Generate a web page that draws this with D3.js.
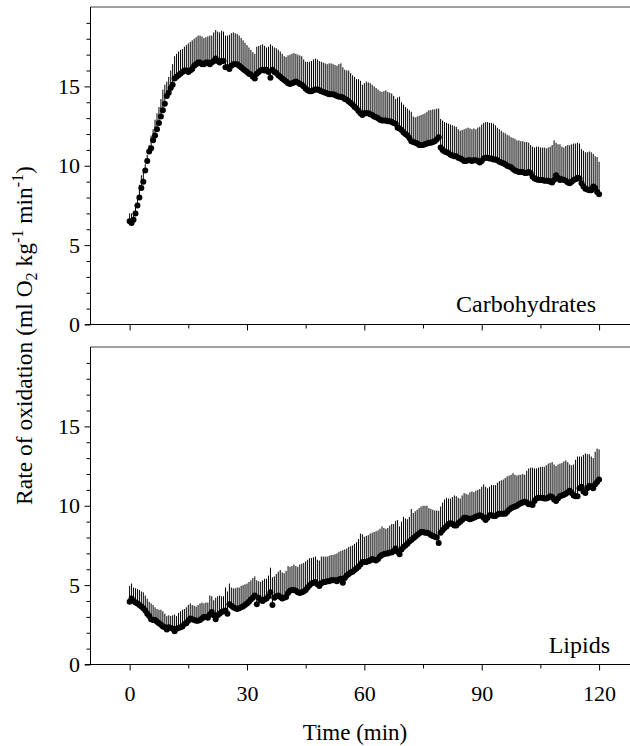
<!DOCTYPE html>
<html>
<head>
<meta charset="utf-8">
<script src="https://cdnjs.cloudflare.com/ajax/libs/d3/7.8.5/d3.min.js"></script>
<style>
  body { margin: 0; background: #fff; }
  svg { display: block; }
  text { font-family: "Liberation Serif", "Times New Roman", serif; fill: #000; }
</style>
</head>
<body>
<svg id="chart" width="630" height="746"></svg>
<script>
// samples every 0.5 min, 0..120
var times = d3.range(0, 120.5, 0.5);

// carbohydrate oxidation, mean and mean + SD
var choMean = [
  6.5,6.4,6.6,7.0,7.5,8.0,8.6,9.0,9.7,10.3,
  10.9,11.1,11.6,11.9,12.3,12.7,13.1,13.5,13.9,14.4,
  14.6,14.9,15.1,15.5,15.6,15.7,15.8,15.9,16.0,16.0,
  15.9,16.0,16.1,16.3,16.4,16.5,16.5,16.4,16.4,16.5,
  16.5,16.4,16.5,16.6,16.75,16.6,16.5,16.6,16.6,16.2,
  16.2,16.1,16.3,16.4,16.4,16.4,16.3,16.2,16.1,16.0,
  15.9,15.8,15.75,15.6,15.5,15.8,15.9,16.0,16.05,16.0,
  16.05,15.9,15.55,16.05,15.9,15.85,15.7,15.6,15.5,15.4,
  15.3,15.2,15.15,15.2,15.25,15.3,15.25,15.15,15.1,15.0,
  14.85,14.75,14.7,14.7,14.75,14.8,14.8,14.75,14.7,14.65,
  14.6,14.55,14.5,14.5,14.5,14.45,14.4,14.35,14.35,14.3,
  14.2,14.15,14.05,13.95,13.85,13.7,13.6,13.45,13.3,13.2,
  13.3,13.3,13.3,13.25,13.2,13.1,13.05,13.0,12.9,12.85,
  12.85,12.85,12.8,12.8,12.75,12.7,12.65,12.4,12.35,12.25,
  12.1,12.0,11.9,11.75,11.55,11.5,11.45,11.4,11.3,11.3,
  11.3,11.35,11.4,11.45,11.45,11.5,11.55,11.65,11.8,11.15,
  11.0,10.9,10.85,10.8,10.7,10.65,10.6,10.6,10.5,10.45,
  10.4,10.3,10.3,10.35,10.35,10.3,10.35,10.35,10.3,10.2,
  10.3,10.45,10.5,10.5,10.45,10.45,10.4,10.4,10.35,10.25,
  10.2,10.15,10.1,10.0,9.95,9.9,9.8,9.7,9.65,9.6,
  9.6,9.6,9.55,9.55,9.6,9.55,9.3,9.2,9.15,9.1,
  9.1,9.1,9.05,9.05,9.05,9.0,8.95,9.1,9.4,9.25,
  9.1,9.15,9.1,9.05,8.95,8.9,9.0,9.1,9.15,9.25,
  9.2,8.9,8.7,8.55,8.5,8.45,8.45,8.7,8.6,8.35,
  8.2
];
var choUpper = [
  7.0,7.0,7.1,7.5,8.0,8.8,9.4,9.6,10.1,10.7,
  11.3,11.9,12.3,12.9,13.3,13.7,14.2,14.8,15.1,15.3,
  15.6,16.0,16.4,16.9,17.05,17.2,17.3,17.35,17.5,17.6,
  17.7,17.8,17.9,18.0,18.1,18.2,18.2,18.15,18.05,18.1,
  18.15,18.2,18.2,18.4,18.55,18.45,18.4,18.5,18.45,18.2,
  18.2,18.25,18.35,18.4,18.35,18.3,18.2,18.05,17.9,17.75,
  17.6,17.45,17.3,17.15,17.05,17.5,17.55,17.6,17.65,17.55,
  17.45,17.5,17.65,17.55,17.45,17.4,17.3,17.2,17.05,16.9,
  16.85,16.95,17.0,17.05,17.1,17.05,17.0,16.95,16.9,16.7,
  16.55,16.55,16.55,16.6,16.7,16.75,16.7,16.6,16.55,16.5,
  16.45,16.4,16.45,16.45,16.4,16.35,16.3,16.4,16.45,16.2,
  16.05,16.0,16.0,15.85,15.7,15.6,15.45,15.45,15.35,15.1,
  15.2,15.3,15.25,15.2,15.1,15.0,14.9,14.8,14.7,14.65,
  14.7,14.75,14.65,14.6,14.55,14.4,14.2,14.3,14.35,14.0,
  13.85,13.7,13.6,13.5,13.4,13.1,13.05,13.1,13.15,13.2,
  13.25,13.3,13.4,13.5,13.5,13.55,13.55,13.6,13.6,12.95,
  12.85,12.75,12.7,12.65,12.6,12.55,12.5,12.45,12.3,12.2,
  12.25,12.3,12.35,12.4,12.35,12.3,12.35,12.3,12.4,12.45,
  12.6,12.7,12.75,12.75,12.7,12.7,12.65,12.55,12.4,12.3,
  12.2,12.1,12.05,11.95,11.9,11.8,11.75,11.7,11.6,11.6,
  11.55,11.55,11.5,11.5,11.45,11.3,11.2,11.15,11.2,11.2,
  11.15,11.15,11.15,11.1,11.15,11.2,11.3,11.6,11.45,11.35,
  11.35,11.2,11.15,11.25,11.3,11.3,11.35,11.4,11.4,11.45,
  11.4,11.05,10.95,10.85,10.85,10.9,10.85,10.75,10.6,10.55,
  10.25
];

// lipid oxidation, mean and mean + SD
var lipMean = [
  3.95,4.15,4.0,3.9,3.85,3.75,3.65,3.55,3.4,3.2,
  3.05,2.85,2.8,2.8,2.7,2.6,2.5,2.4,2.35,2.2,
  2.35,2.3,2.25,2.1,2.25,2.3,2.35,2.4,2.55,2.6,
  2.75,2.9,2.85,2.8,2.75,2.75,2.8,2.9,3.0,3.0,
  2.95,3.15,3.3,3.1,2.85,3.1,3.2,3.3,3.35,3.4,
  3.2,3.8,3.7,3.6,3.55,3.5,3.55,3.6,3.65,3.75,
  3.85,3.95,4.1,4.2,4.35,3.8,4.2,4.05,4.0,4.1,
  4.15,4.3,4.55,3.75,4.2,4.3,4.35,4.25,4.15,4.2,
  4.25,4.5,4.65,4.7,4.7,4.65,4.55,4.5,4.55,4.6,
  4.7,4.85,5.0,5.1,5.15,5.2,5.05,4.95,5.1,5.2,
  5.2,5.25,5.25,5.3,5.3,5.3,5.25,5.35,5.4,5.15,
  5.45,5.6,5.7,5.8,5.85,5.95,6.05,6.15,6.3,6.45,
  6.45,6.45,6.5,6.55,6.65,6.6,6.55,6.65,6.8,6.9,
  6.95,7.0,7.0,7.05,7.05,7.15,7.3,7.1,6.95,7.25,
  7.4,7.5,7.6,7.75,7.85,7.95,8.05,8.15,8.25,8.35,
  8.35,8.3,8.3,8.25,8.15,8.1,8.05,8.0,7.65,8.3,
  8.45,8.6,8.7,8.85,8.9,8.85,8.75,8.75,8.9,9.0,
  9.1,9.25,9.25,9.2,9.15,9.2,9.25,9.3,9.35,9.4,
  9.35,9.25,9.1,9.25,9.4,9.4,9.35,9.35,9.45,9.5,
  9.5,9.5,9.5,9.6,9.75,9.85,9.9,9.95,10.0,10.1,
  10.15,10.2,10.25,10.2,10.1,10.1,10.05,10.3,10.45,10.5,
  10.5,10.5,10.45,10.45,10.5,10.6,10.55,10.4,10.3,10.45,
  10.6,10.65,10.7,10.75,10.85,10.95,10.8,10.65,10.6,10.6,
  11.1,11.2,10.9,10.8,11.1,11.25,11.2,11.1,11.35,11.5,
  11.65
];
var lipUpper = [
  4.95,5.1,4.85,4.8,4.75,4.7,4.6,4.55,4.35,4.15,
  3.95,3.85,3.75,3.6,3.5,3.45,3.45,3.35,3.2,3.05,
  3.1,3.05,3.1,3.15,3.05,3.25,3.35,3.45,3.5,3.6,
  3.75,3.85,3.75,3.7,3.65,3.75,3.85,3.9,3.85,3.9,
  3.9,4.35,4.3,4.05,4.2,4.3,4.35,4.3,4.3,4.85,
  4.6,5.1,4.85,4.8,4.8,4.85,4.85,4.95,5.0,5.05,
  5.1,5.2,5.3,5.45,5.55,5.3,5.25,5.2,5.3,5.4,
  5.4,5.6,6.1,5.5,5.55,5.7,5.85,5.95,5.8,5.75,
  5.9,6.2,6.15,6.2,6.3,6.2,6.15,6.3,6.35,6.4,
  6.5,6.6,6.7,6.7,6.75,6.8,6.6,6.55,6.8,6.8,
  6.8,6.8,6.85,6.9,6.9,6.95,7.0,7.1,7.15,7.2,
  7.25,7.3,7.4,7.45,7.5,7.6,7.7,7.9,8.25,8.2,
  8.05,8.1,8.15,8.25,8.3,8.35,8.4,8.45,8.55,8.7,
  8.6,8.55,8.6,8.75,8.85,8.85,9.05,9.1,8.7,9.0,
  9.3,9.2,9.15,9.3,9.8,9.55,9.65,9.75,9.85,9.95,
  10.0,10.0,10.0,9.85,9.8,9.75,9.7,9.7,9.68,9.95,
  10.2,10.4,10.5,10.45,10.45,10.55,10.65,10.6,10.5,10.45,
  10.65,10.8,10.75,10.7,10.85,10.9,10.85,10.95,11.0,11.05,
  11.2,11.35,11.2,11.1,11.2,11.3,11.3,11.3,11.45,11.55,
  11.6,11.65,11.75,11.85,11.9,11.95,12.05,11.95,11.9,11.95,
  11.95,12.0,11.95,12.2,12.35,12.4,12.4,12.35,12.35,12.4,
  12.45,12.45,12.45,12.55,12.65,12.7,12.75,12.6,12.5,12.6,
  12.65,12.7,12.8,12.85,12.75,12.6,12.55,12.6,12.9,13.1,
  13.1,13.1,13.2,13.3,13.25,13.25,13.1,13.0,13.4,13.6,
  13.55
];

var xMajor = [0, 30, 60, 90, 120],
    xMinor = [15, 45, 75, 105],
    yMajor = [0, 5, 10, 15],
    yMinor = [1,2,3,4,6,7,8,9,11,12,13,14,16,17,18,19];

var svg = d3.select("#chart");

var x = d3.scaleLinear().domain([-10, 130]).range([90.5, 638.2]);

var panels = [
  {name: "Carbohydrates", mean: choMean, upper: choUpper, bottom: 324.5, top: 7, labelX: 596, labelY: 311.5, ticks: false},
  {name: "Lipids", mean: lipMean, upper: lipUpper, bottom: 664.5, top: 347, labelX: 610, labelY: 652.5, ticks: true}
];

panels.forEach(function(p) {
  var y = d3.scaleLinear().domain([0, 20]).range([p.bottom, p.top]);
  var g = svg.append("g");

  // gray frame line on top
  g.append("line")
    .attr("x1", 90.5).attr("x2", 630)
    .attr("y1", p.top).attr("y2", p.top)
    .attr("stroke", "#808080").attr("stroke-width", 1.5);

  // error bars (upper SD only)
  g.append("g").selectAll("line")
    .data(times)
    .join("line")
    .attr("x1", function(t) { return x(t); })
    .attr("x2", function(t) { return x(t); })
    .attr("y1", function(t, i) { return y(p.mean[i]); })
    .attr("y2", function(t, i) { return y(p.upper[i]); })
    .attr("stroke", "#000").attr("stroke-width", 1);

  g.append("g").selectAll("circle")
    .data(times)
    .join("circle")
    .attr("cx", function(t) { return x(t); })
    .attr("cy", function(t, i) { return y(p.mean[i]); })
    .attr("r", 3)
    .attr("fill", "#000");

  // x axis
  var xa = g.append("g").attr("transform", "translate(0," + p.bottom + ")");
  xa.append("g").call(d3.axisBottom(x).tickValues(xMinor).tickSize(4).tickFormat(""));
  xa.append("g").call(d3.axisBottom(x).tickValues(xMajor).tickSize(6).tickPadding(15)
    .tickFormat(p.ticks ? d3.format("d") : ""));
  xa.selectAll(".domain").remove();
  xa.append("line").attr("x1", 85).attr("x2", 630).attr("stroke", "#000");

  // y axis
  var ya = g.append("g").attr("transform", "translate(90.5,0)");
  ya.append("g").call(d3.axisLeft(y).tickValues(yMinor).tickSize(4).tickFormat(""));
  ya.append("g").call(d3.axisLeft(y).tickValues(yMajor).tickSize(6).tickPadding(4.5).tickFormat(d3.format("d")));
  ya.selectAll(".domain").remove();
  ya.append("line").attr("y1", p.top).attr("y2", p.bottom).attr("stroke", "#000");

  svg.selectAll(".tick text")
    .attr("font-size", 22)
    .attr("font-family", "'Liberation Serif', 'Times New Roman', serif");

  g.append("text")
    .attr("x", p.labelX).attr("y", p.labelY)
    .attr("text-anchor", "end")
    .attr("font-size", 24)
    .text(p.name);
});

// axis titles
svg.append("text")
  .attr("x", 355).attr("y", 740)
  .attr("text-anchor", "middle")
  .attr("font-size", 23)
  .text("Time (min)");

var yt = svg.append("text")
  .attr("transform", "translate(32,335.5) rotate(-90)")
  .attr("text-anchor", "middle")
  .attr("font-size", 23.5);
yt.append("tspan").text("Rate of oxidation (ml O");
yt.append("tspan").attr("dy", 5).attr("font-size", 16).text("2");
yt.append("tspan").attr("dy", -5).text(" kg");
yt.append("tspan").attr("dy", -9).attr("font-size", 16).text("-1");
yt.append("tspan").attr("dy", 9).text(" min");
yt.append("tspan").attr("dy", -9).attr("font-size", 16).text("-1");
yt.append("tspan").attr("dy", 9).text(")");
</script>
</body>
</html>
